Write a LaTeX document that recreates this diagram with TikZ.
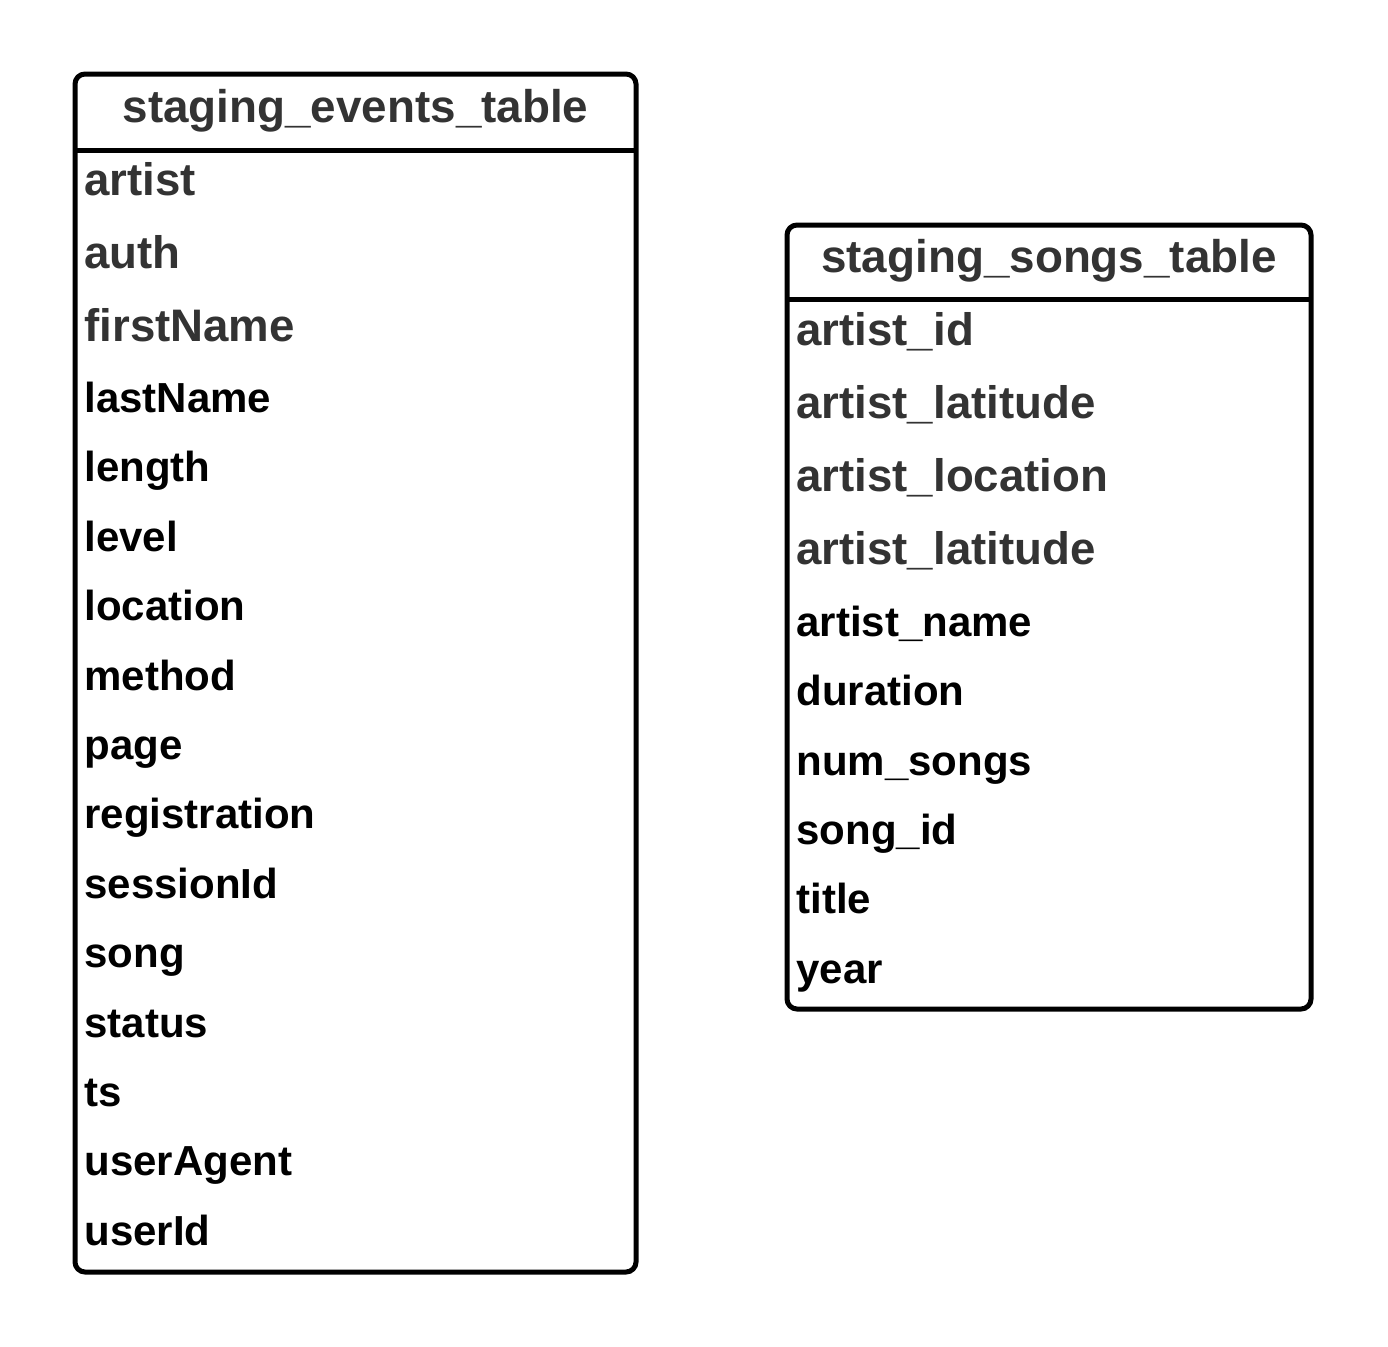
\documentclass[tikz,border=0pt]{standalone}
\usepackage{fontspec}
\setmainfont{Liberation Sans}
\definecolor{keygray}{HTML}{333333}
\begin{document}
\begin{tikzpicture}[x=0.5pt, y=-0.5pt, line width=2.5pt,
    title/.style={font=\bfseries\fontsize{22.9}{27}\selectfont, text=keygray, anchor=base, inner sep=0pt},
    keyfield/.style={font=\bfseries\fontsize{22.8}{27}\selectfont, text=keygray, anchor=base west, inner sep=0pt},
    field/.style={font=\bfseries\fontsize{21}{25}\selectfont, anchor=base west, inner sep=0pt},
    tablebox/.style={draw, rounded corners=5pt}]
    \useasboundingbox (0,0) rectangle (1388,1346);

    % Box for staging_events_table
    \draw[tablebox] (75,74) rectangle (636,1272);
    \draw (75,150) -- (636,150);
    \node[title] (evtitle) at (355.5,122) {staging\_events\_table};
    \node[keyfield] (ev1) at (82,195) {artist};
    \node[keyfield] (ev2) at (82,268) {auth};
    \node[keyfield] (ev3) at (82,341) {firstName};
    \node[field] (ev4) at (82,412) {lastName};
    \node[field] (ev5) at (82,481.5) {length};
    \node[field] (ev6) at (82,551) {level};
    \node[field] (ev7) at (82,620.5) {location};
    \node[field] (ev8) at (82,690) {method};
    \node[field] (ev9) at (82,759) {page};
    \node[field] (ev10) at (82,828.5) {registration};
    \node[field] (ev11) at (82,898) {sessionId};
    \node[field] (ev12) at (82,967) {song};
    \node[field] (ev13) at (82,1037) {status};
    \node[field] (ev14) at (82,1106) {ts};
    \node[field] (ev15) at (82,1175) {userAgent};
    \node[field] (ev16) at (82,1245) {userId};

    % Box for staging_songs_table
    \draw[tablebox] (787,225) rectangle (1311,1009);
    \draw (787,299) -- (1311,299);
    \node[title] (sotitle) at (1049,272) {staging\_songs\_table};
    \node[keyfield] (so1) at (794,345) {artist\_id};
    \node[keyfield] (so2) at (794,418) {artist\_latitude};
    \node[keyfield] (so3) at (794,491) {artist\_location};
    \node[keyfield] (so4) at (794,564) {artist\_latitude};
    \node[field] (so5) at (794,636) {artist\_name};
    \node[field] (so6) at (794,705) {duration};
    \node[field] (so7) at (794,775) {num\_songs};
    \node[field] (so8) at (794,844) {song\_id};
    \node[field] (so9) at (794,913) {title};
    \node[field] (so10) at (794,983) {year};
\end{tikzpicture}
\end{document}
